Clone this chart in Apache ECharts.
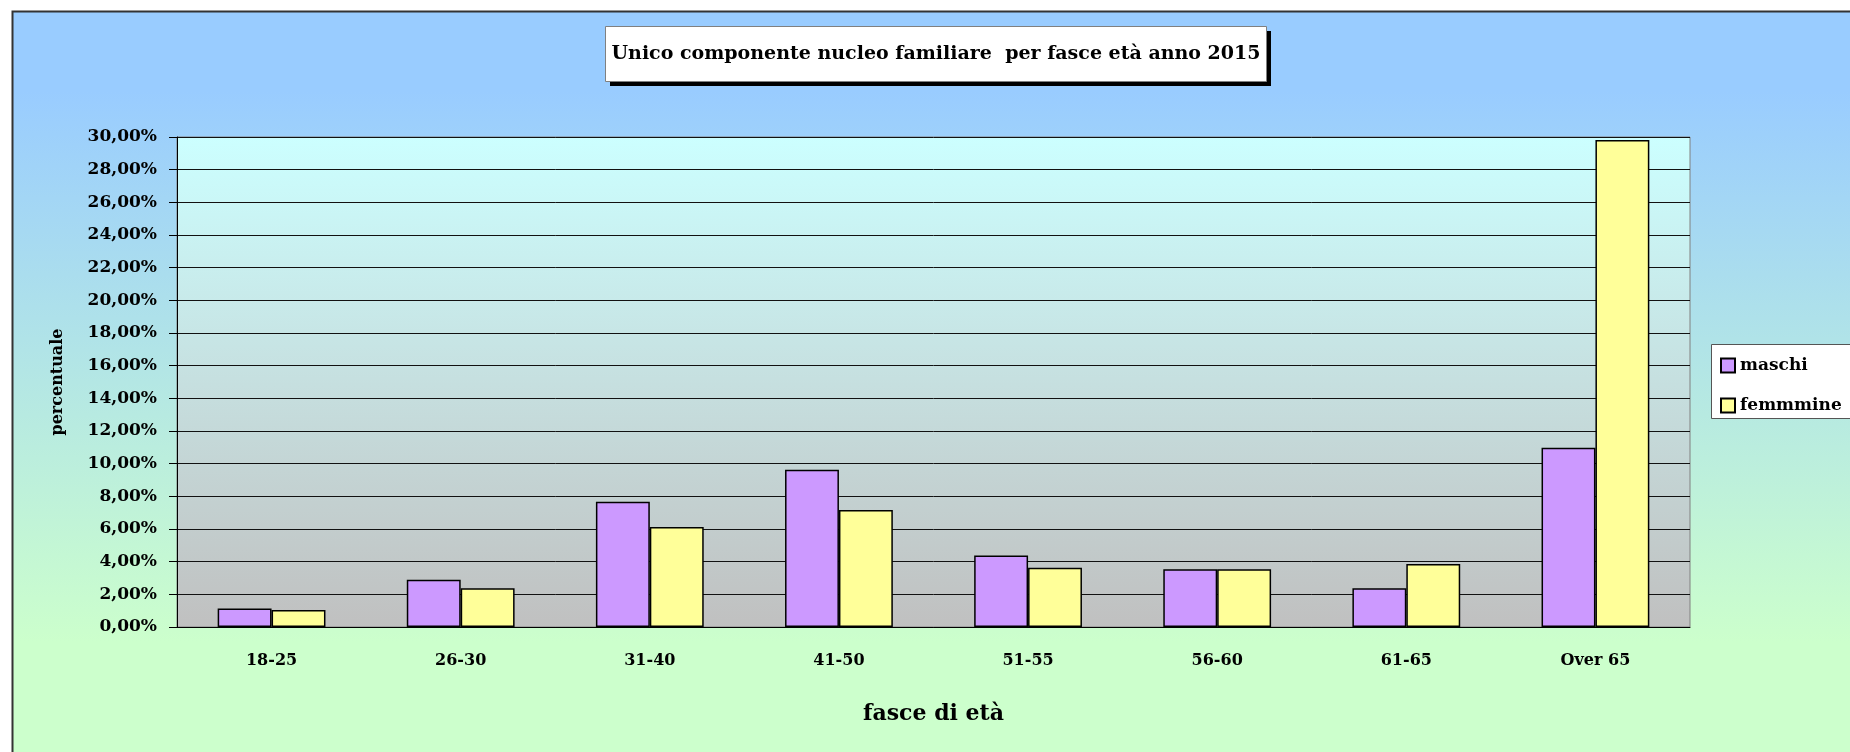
<!DOCTYPE html>
<html>
<head>
<meta charset="utf-8">
<title>Unico componente nucleo familiare per fasce età anno 2015</title>
<script src="https://cdn.jsdelivr.net/npm/echarts@6/dist/echarts.min.js"></script>
<style>
  html, body { margin: 0; padding: 0; background: #fff; overflow: hidden; }
  #chart { width: 100vw; height: 100vh; }
</style>
</head>
<body>
<div id="chart"></div>
<script>
// valori in percentuale
const fasce = ['18-25', '26-30', '31-40', '41-50', '51-55', '56-60', '61-65', 'Over 65']
const maschi = [1.14, 2.90, 7.67, 9.63, 4.37, 3.53, 2.37, 10.98]
const femmine = [1.04, 2.37, 6.12, 7.16, 3.63, 3.53, 3.86, 29.82]
const yMax = 30
const yStep = 2

const font = 'DejaVu Serif'

const chart = echarts.init(document.getElementById('chart'))

const option = {
  backgroundColor: '#fff',
  animation: false,
  textStyle: { fontFamily: font },
  graphic: [
    // sfondo dell'area grafico (esce dal bordo destro e inferiore)
    {
      type: 'rect',
      z: -10,
      silent: true,
      shape: { x: 12.5, y: 11.5, width: 2000, height: 1000 },
      style: {
        stroke: '#333',
        lineWidth: 2,
        fill: new echarts.graphic.LinearGradient(0, 0, 0, 1, [
          { offset: 0, color: '#99ccff' },
          { offset: 0.08, color: '#99ccff' },
          { offset: 0.63, color: '#ccffcc' },
          { offset: 1, color: '#ccffcc' }
        ])
      }
    },
    // box del titolo con ombra
    {
      type: 'rect',
      shape: { x: 610, y: 31, width: 661, height: 55 },
      style: { fill: '#000' }
    },
    {
      type: 'rect',
      shape: { x: 605.5, y: 26.5, width: 661, height: 55 },
      style: { fill: '#fff', stroke: '#808080', lineWidth: 1 }
    },
    {
      type: 'text',
      x: 936,
      y: 54,
      style: {
        text: 'Unico componente nucleo familiare  per fasce età anno 2015',
        fill: '#000',
        font: 'bold 19px "DejaVu Serif"',
        align: 'center',
        verticalAlign: 'middle'
      }
    },
    // box della legenda, tagliato dal bordo destro
    {
      type: 'rect',
      shape: { x: 1711.5, y: 344.5, width: 300, height: 74 },
      style: { fill: '#fff', stroke: '#555', lineWidth: 1 }
    }
  ],
  legend: {
    orient: 'vertical',
    left: 1720,
    top: 357,
    padding: 0,
    itemWidth: 14,
    itemHeight: 14,
    itemGap: 23,
    icon: 'rect',
    textStyle: { fontFamily: font, fontWeight: 'bold', fontSize: 17, color: '#000' },
    data: ['maschi', 'femmmine']
  },
  grid: {
    left: 177,
    top: 137,
    width: 1513,
    height: 490,
    show: true,
    borderColor: '#808080',
    borderWidth: 1,
    backgroundColor: {
      type: 'linear', x: 0, y: 0, x2: 0, y2: 1,
      colorStops: [
        { offset: 0, color: '#ccffff' },
        { offset: 1, color: '#c0c0c0' }
      ]
    }
  },
  xAxis: {
    type: 'category',
    data: fasce,
    name: 'fasce di età',
    nameLocation: 'middle',
    nameGap: 76,
    nameTextStyle: { fontFamily: font, fontWeight: 'bold', fontSize: 22, color: '#000' },
    axisLine: { lineStyle: { color: '#000', width: 1 } },
    axisTick: { length: 7, lineStyle: { color: '#000' } },
    axisLabel: { margin: 26, fontFamily: font, fontWeight: 'bold', fontSize: 16, color: '#000' }
  },
  yAxis: {
    type: 'value',
    min: 0,
    max: yMax,
    interval: yStep,
    name: 'percentuale',
    nameLocation: 'middle',
    nameGap: 111,
    nameTextStyle: { fontFamily: font, fontWeight: 'bold', fontSize: 16, color: '#000' },
    axisLine: { show: true, lineStyle: { color: '#000', width: 1 } },
    axisTick: { show: true, inside: false, length: 8, lineStyle: { color: '#000' } },
    axisLabel: {
      margin: 20,
      fontFamily: font,
      fontWeight: 'bold',
      fontSize: 17,
      color: '#000',
      formatter: v => v.toFixed(2).replace('.', ',') + '%'
    },
    splitLine: { show: true, lineStyle: { color: '#111', width: 1 } }
  },
  series: [
    {
      name: 'maschi',
      type: 'bar',
      data: maschi,
      barGap: '0%',
      barCategoryGap: '43%',
      itemStyle: { color: '#cc99ff', borderColor: '#000', borderWidth: 1.5 }
    },
    {
      name: 'femmmine',
      type: 'bar',
      data: femmine,
      itemStyle: { color: '#ffff99', borderColor: '#000', borderWidth: 1.5 }
    }
  ]
}

chart.setOption(option)
</script>
</body>
</html>
